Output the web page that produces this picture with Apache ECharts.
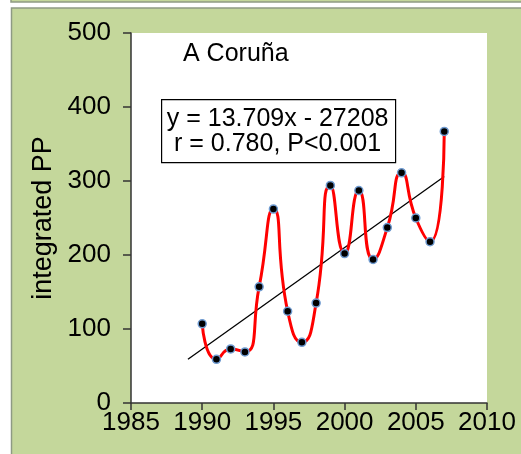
<!DOCTYPE html>
<html>
<head>
<meta charset="utf-8">
<script src="https://cdn.jsdelivr.net/npm/echarts@6/dist/echarts.min.js"></script>
<style>
  html, body { margin: 0; padding: 0; background: #fff; }
  #chart { width: 521px; height: 454px; }
</style>
</head>
<body>
<div id="chart"></div>
<script>
var years = [1990, 1991, 1992, 1993, 1994, 1995, 1996, 1997, 1998, 1999,
             2000, 2001, 2002, 2003, 2004, 2005, 2006, 2007];
var pp = [107, 59, 73, 69, 157, 262, 124, 82, 135, 294,
          202, 287, 194, 237, 311, 250, 218, 367];
var trendYears = [1989, 2007];
var trendValues = [59, 306];
var xTicks = [1985, 1990, 1995, 2000, 2005, 2010];
var yTicks = [0, 100, 200, 300, 400, 500];

var chart = echarts.init(document.getElementById("chart"));
var font = "Liberation Sans";
var axisCol = "#333";

var option = {
  animation: false,
  backgroundColor: "#fff",
  graphic: [
    // strip of the panel above
    { type: "rect", z: -10, shape: { x: 11, y: -10, width: 530, height: 12 },
      style: { fill: "#c4d79b", stroke: "#8e9a84", lineWidth: 1.5 } },
    // green panel
    { type: "rect", z: -10, shape: { x: 11.5, y: 8, width: 530, height: 470 },
      style: { fill: "#c4d79b", stroke: "#8e9a84", lineWidth: 1.5 } },
    // equation box
    { type: "group", left: 161, top: 99, children: [
      { type: "rect", shape: { x: 0, y: 0, width: 234, height: 63 },
        style: { fill: "#fff", stroke: "#000", lineWidth: 1.2 } },
      { type: "text", x: 116, y: 20, style: { text: "y = 13.709x - 27208", font: "25px " + font,
        fill: "#000", align: "center", verticalAlign: "middle" } },
      { type: "text", x: 116, y: 45, style: { text: "r = 0.780, P<0.001", font: "25px " + font,
        fill: "#000", align: "center", verticalAlign: "middle" } }
    ] }
  ],
  title: {
    text: "A Coruña", left: 178, top: 37,
    textStyle: { fontFamily: font, fontSize: 25, fontWeight: "normal", color: "#000" }
  },
  grid: {
    left: 131, right: 34, top: 33, bottom: 51,
    show: true, backgroundColor: "#fff", borderWidth: 0
  },
  xAxis: {
    type: "value", min: xTicks[0], max: xTicks[xTicks.length - 1], interval: 5,
    axisLine: { show: true, lineStyle: { color: axisCol, width: 1.5 } },
    axisTick: { show: true, length: 7, lineStyle: { color: axisCol, width: 1.5 } },
    splitLine: { show: false },
    axisLabel: { fontFamily: font, fontSize: 26, color: "#000", margin: 7,
      formatter: function (v) { return String(v); } }
  },
  yAxis: {
    type: "value", min: yTicks[0], max: yTicks[yTicks.length - 1], interval: 100,
    name: "integrated PP", nameLocation: "middle", nameGap: 67, nameRotate: 90,
    nameTextStyle: { fontFamily: font, fontSize: 27, color: "#000" },
    axisLine: { show: true, lineStyle: { color: axisCol, width: 1.5 } },
    axisTick: { show: true, length: 8, lineStyle: { color: axisCol, width: 1.5 } },
    splitLine: { show: false },
    axisLabel: { fontFamily: font, fontSize: 26, color: "#000", margin: 20 }
  },
  series: [
    {
      type: "line",
      data: trendYears.map(function (y, i) { return [y, trendValues[i]]; }),
      symbol: "none",
      lineStyle: { color: "#000", width: 1.3 },
      z: 3
    },
    {
      type: "line",
      data: years.map(function (y, i) { return [y, pp[i]]; }),
      smooth: 0.6,
      symbol: "circle", symbolSize: 8,
      lineStyle: { color: "#ff0000", width: 3 },
      itemStyle: { color: "#000", borderColor: "#6f9bd1", borderWidth: 1.5 },
      z: 4
    }
  ]
};
chart.setOption(option);
</script>
</body>
</html>
